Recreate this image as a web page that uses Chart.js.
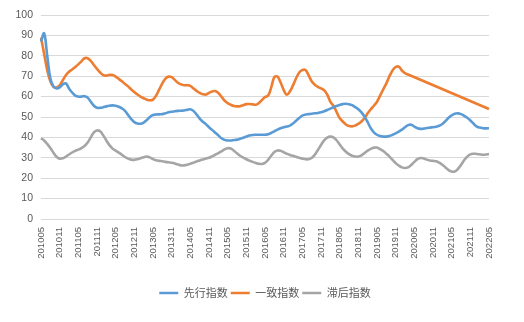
<!DOCTYPE html>
<html>
<head>
<meta charset="utf-8">
<script src="https://cdn.jsdelivr.net/npm/chart.js@4/dist/chart.umd.min.js"></script>
<style>
  html, body { margin: 0; padding: 0; background: #ffffff; }
  #wrap { width: 524px; height: 322px; }
</style>
</head>
<body>
<div id="wrap"><canvas id="c" width="524" height="322"></canvas></div>
<script>
// Monthly index values, May 2010 through May 2022 (one row per 12 months)
const leadingIndex = [
  87, 91, 80, 69, 65, 64, 64.5, 66, 66.5, 64, 62, 60.5,
  60, 60, 60.2, 59.5, 57.5, 55.5, 54.5, 54.5, 54.8, 55.2, 55.5, 55.7,
  55.5, 55, 54.2, 53, 51, 49, 47.5, 46.8, 46.7, 47.3, 48.5, 50,
  51, 51.2, 51.3, 51.4, 51.8, 52.3, 52.6, 52.8, 53, 53.1, 53.2, 53.5,
  53.8, 53, 51.2, 49.2, 47.7, 46.5, 45, 43.7, 42.3, 41, 39.6, 38.8,
  38.5, 38.5, 38.7, 38.9, 39.3, 39.8, 40.4, 40.9, 41.2, 41.3, 41.3, 41.3,
  41.3, 41.6, 42.2, 43, 43.8, 44.5, 45, 45.3, 45.8, 46.8, 48.2, 49.5,
  50.7, 51.2, 51.4, 51.6, 51.8, 52, 52.3, 52.8, 53.4, 54.1, 54.8, 55.4,
  55.9, 56.3, 56.5, 56.3, 55.8, 54.8, 53.8, 52.3, 50.2, 47.5, 44.5, 42.5,
  41.3, 40.7, 40.4, 40.4, 40.7, 41.3, 42, 42.8, 43.8, 45, 46, 46.2,
  45.3, 44.5, 44.2, 44.3, 44.6, 44.8, 45, 45.2, 45.7, 46.6, 48, 49.6,
  50.8, 51.6, 51.8, 51.4, 50.6, 49.6, 48.3, 46.8, 45.4, 44.8, 44.5, 44.4,
  44.5
];

const coincidentIndex = [
  89, 81, 73, 67.5, 64.8, 64.5, 65.5, 68, 70.5, 72.2, 73.3, 74.5,
  75.8, 77.3, 78.8, 78.8, 77.5, 75.5, 73.6, 71.8, 70.5, 70.3, 70.6, 70.6,
  69.8, 68.7, 67.5, 66.2, 65, 63.5, 62.2, 61, 60, 59.2, 58.5, 58.2,
  58.5, 60.5, 63.5, 66.5, 68.8, 69.8, 69.5, 68.2, 66.8, 66, 65.6, 65.6,
  65.3, 64, 62.8, 61.8, 61.2, 61, 61.8, 62.5, 62.7, 61.8, 60, 58,
  56.8, 56, 55.4, 55.2, 55.3, 55.8, 56.3, 56.4, 56.2, 56, 56.8, 58.3,
  59.8, 60.5, 64.5, 69.5, 69.8, 67, 63.3, 60.9, 62.5, 65.5, 69, 71.8,
  73, 73, 70.5, 67.5, 65.8, 64.8, 64, 63.2, 61, 57.5, 55.5, 52.5,
  49.5, 47.8, 46.3, 45.6, 45.4, 45.8, 46.6, 47.8, 49.5, 51.8, 53.8, 55.5,
  57.5, 60.5, 63.5, 66.5, 70, 72.8, 74.5, 74.7, 72.8, 71.5, 70.8, null,
  null, null, null, null, null, null, null, null, null, null, null, null,
  null, null, null, null, null, null, null, null, null, null, null, null,
  53.9
];

const laggingIndex = [
  39.6, 38.5, 36.8, 34.8, 32.5, 30.5, 29.6, 29.8, 30.6, 31.6, 32.6, 33.4,
  34, 34.8, 35.8, 37.5, 40, 42.5, 43.4, 43, 41, 38.5, 36.2, 34.5,
  33.5, 32.5, 31.5, 30.4, 29.6, 29.1, 29, 29.3, 29.8, 30.3, 30.6, 30.2,
  29.4, 28.8, 28.5, 28.3, 28, 27.8, 27.6, 27.2, 26.7, 26.3, 26.3, 26.6,
  27.1, 27.6, 28.2, 28.7, 29.2, 29.6, 30, 30.7, 31.5, 32.3, 33.2, 34.1,
  34.7, 34.6, 33.5, 32.2, 31, 30.1, 29.3, 28.6, 28, 27.5, 27.1, 27,
  27.5, 29, 31, 32.8, 33.6, 33.4, 32.7, 32, 31.4, 31, 30.5, 30,
  29.6, 29.3, 29.3, 29.9, 31.5, 33.8, 36.3, 38.5, 39.9, 40.4, 40, 38.6,
  36.5, 34.5, 33, 31.8, 31, 30.6, 30.6, 31.2, 32.3, 33.5, 34.4, 35,
  35, 34.2, 33.3, 32, 30.6, 29, 27.4, 26.2, 25.3, 25, 25.3, 26.5,
  28, 29.3, 29.9, 29.7, 29.1, 28.7, 28.5, 28.3, 27.6, 26.6, 25.3, 24,
  23.3, 23.3, 24.5, 26.5, 28.8, 30.6, 31.7, 32, 31.9, 31.7, 31.5, 31.6,
  31.9
];

// Axis tick labels shown along the bottom (every six months)
const tickLabels = [
  '201005', '201011', '201105', '201111', '201205', '201211', '201305',
  '201311', '201405', '201411', '201505', '201511', '201605', '201611',
  '201705', '201711', '201805', '201811', '201905', '201911', '202005',
  '202011', '202105', '202111', '202205'
];

const seriesNames = ['先行指数', '一致指数', '滞后指数'];
const seriesColors = ['#5B9BD5', '#ED7D31', '#A5A5A5'];

// Month categories yyyymm from 201005 to 202205
const months = [];
for (let y = 2010, m = 5; y < 2022 || (y === 2022 && m <= 5); m++) {
  if (m > 12) { m = 1; y++; }
  if (y === 2022 && m > 5) break;
  months.push(String(y) + String(m).padStart(2, '0'));
}
const shown = new Set(tickLabels);

const tickFont = { family: "'Liberation Sans', Arial, sans-serif" };

new Chart(document.getElementById('c'), {
  type: 'line',
  data: {
    labels: months,
    datasets: [leadingIndex, coincidentIndex, laggingIndex].map((d, k) => ({
      label: seriesNames[k],
      data: d,
      borderColor: seriesColors[k],
      backgroundColor: seriesColors[k],
      borderWidth: 2.6,
      pointRadius: 0,
      pointHoverRadius: 0,
      tension: 0.4,
      spanGaps: true,
      fill: false
    }))
  },
  options: {
    responsive: false,
    animation: false,
    devicePixelRatio: 1,
    layout: { padding: { left: 0, right: 35, top: 15, bottom: 13.5 } },
    plugins: {
      tooltip: { enabled: false },
      legend: {
        position: 'bottom',
        fullSize: false,
        labels: {
          usePointStyle: true,
          pointStyle: 'line',
          pointStyleWidth: 19,
          padding: 3,
          color: '#595959',
          font: { size: 11, family: "'Noto Sans CJK SC', sans-serif" }
        }
      }
    },
    scales: {
      x: {
        grid: { display: false, drawTicks: false },
        border: { display: false },
        ticks: {
          autoSkip: false,
          maxRotation: 90,
          minRotation: 90,
          padding: 8,
          color: '#595959',
          font: Object.assign({ size: 9.5 }, tickFont),
          callback: function (v, i) { return shown.has(months[i]) ? months[i] : null; }
        },
        afterFit: function (s) { s.height = 65.5; }
      },
      y: {
        min: 0,
        max: 100,
        grid: { color: '#D9D9D9', lineWidth: 1, drawTicks: false },
        border: { display: false },
        ticks: {
          stepSize: 10,
          padding: 8,
          color: '#595959',
          font: Object.assign({ size: 10.5 }, tickFont)
        },
        afterFit: function (s) { s.width = 41; }
      }
    }
  }
});
</script>
</body>
</html>
